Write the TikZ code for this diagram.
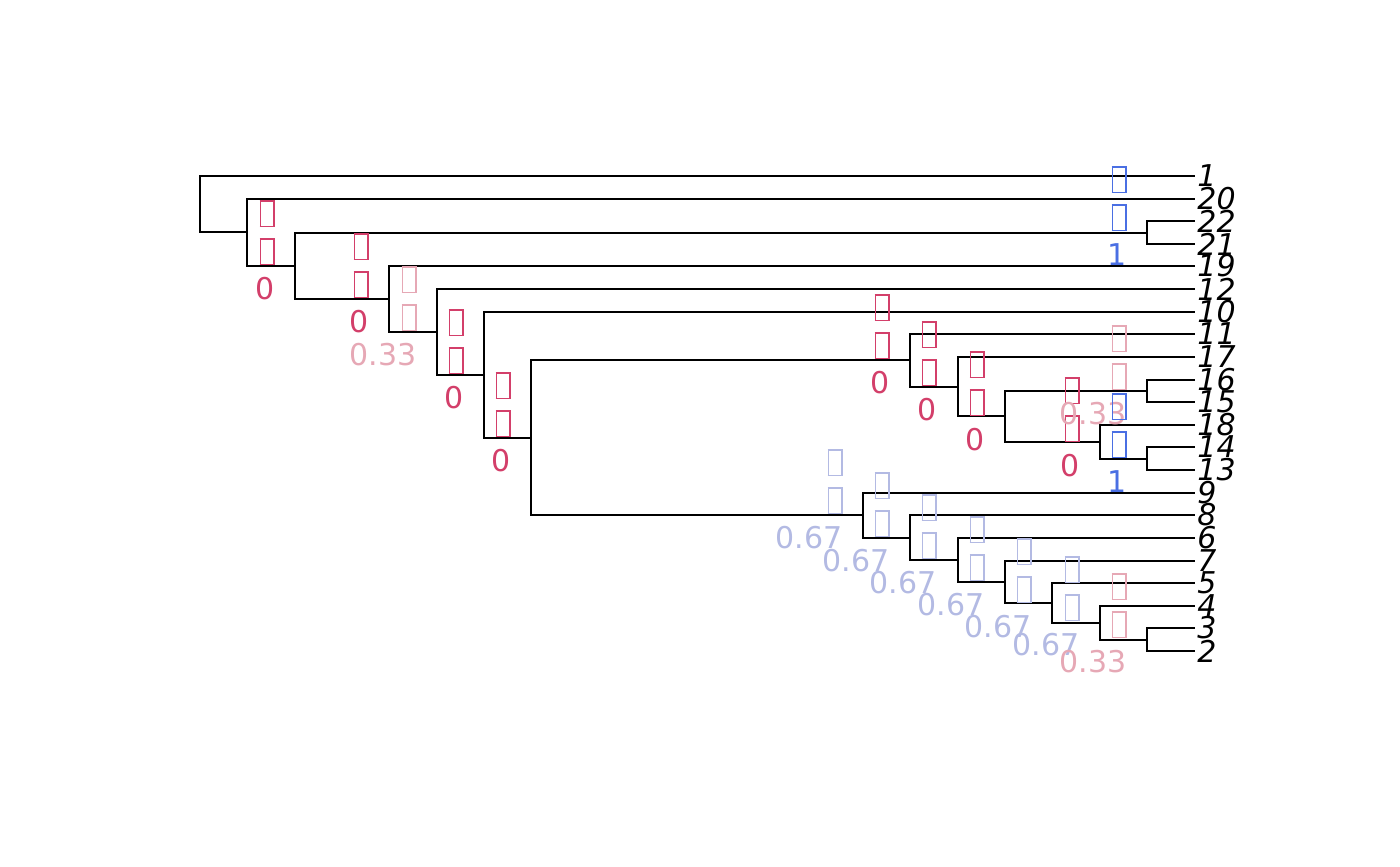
\documentclass[tikz,border=0pt]{standalone}
\usepackage{fontspec}
\setmainfont{DejaVu Sans}
\usetikzlibrary{positioning}
\definecolor{redlab}{HTML}{D33F6A}
\definecolor{pinklab}{HTML}{E6A8B5}
\definecolor{lavlab}{HTML}{B3BAE3}
\definecolor{bluelab}{HTML}{4A6FE3}
\newcommand{\tofu}{\raisebox{-1.5pt}{\fboxsep=0pt\fboxrule=0.6pt\fbox{\rule{0pt}{12.3pt}\hspace{6.3pt}}}}

\begin{document}
\begin{tikzpicture}[
  x=0.5pt, y=-0.5pt,
  br/.style={line width=0.9pt},
  tipl/.style={font=\fontsize{15pt}{18pt}\selectfont\itshape, inner sep=0pt},
  nlab/.style={font=\fontsize{15pt}{19pt}\selectfont, align=right, anchor=north east, inner sep=0pt},
  zero/.style={nlab, text=redlab},
  third/.style={nlab, text=pinklab},
  twothird/.style={nlab, text=lavlab},
  one/.style={nlab, text=bluelab}
]
  \useasboundingbox (0,0) rectangle (1400,866);

  % tips
  \coordinate (t1) at (1195,176);
  \coordinate (t20) at (1195,199);
  \coordinate (t22) at (1195,221);
  \coordinate (t21) at (1195,244);
  \coordinate (t19) at (1195,266);
  \coordinate (t12) at (1195,289);
  \coordinate (t10) at (1195,312);
  \coordinate (t11) at (1195,334);
  \coordinate (t17) at (1195,357);
  \coordinate (t16) at (1195,380);
  \coordinate (t15) at (1195,402);
  \coordinate (t18) at (1195,425);
  \coordinate (t14) at (1195,447);
  \coordinate (t13) at (1195,470);
  \coordinate (t9) at (1195,493);
  \coordinate (t8) at (1195,515);
  \coordinate (t6) at (1195,538);
  \coordinate (t7) at (1195,561);
  \coordinate (t5) at (1195,583);
  \coordinate (t4) at (1195,606);
  \coordinate (t3) at (1195,628);
  \coordinate (t2) at (1195,651);

  % internal nodes
  \coordinate (root) at (200,204);
  \coordinate (a) at (247,232);
  \coordinate (b) at (295,266);
  \coordinate (u) at (1147,233);
  \coordinate (c) at (389,299);
  \coordinate (d) at (437,332);
  \coordinate (e) at (484,375);
  \coordinate (f) at (531,438);
  \coordinate (g) at (910,360);
  \coordinate (i) at (958,387);
  \coordinate (j) at (1005,416);
  \coordinate (k) at (1147,391);
  \coordinate (l) at (1100,442);
  \coordinate (m) at (1147,459);
  \coordinate (h) at (863,515);
  \coordinate (n) at (910,538);
  \coordinate (o) at (958,560);
  \coordinate (p) at (1005,582);
  \coordinate (q) at (1052,603);
  \coordinate (r) at (1100,623);
  \coordinate (s) at (1147,640);

  \draw[br] (root) |- (t1) (root) |- (a);
  \draw[br] (a) |- (t20) (a) |- (b);
  \draw[br] (b) |- (u) (b) |- (c);
  \draw[br] (u) |- (t22) (u) |- (t21);
  \draw[br] (c) |- (t19) (c) |- (d);
  \draw[br] (d) |- (t12) (d) |- (e);
  \draw[br] (e) |- (t10) (e) |- (f);
  \draw[br] (f) |- (g) (f) |- (h);
  \draw[br] (g) |- (t11) (g) |- (i);
  \draw[br] (i) |- (t17) (i) |- (j);
  \draw[br] (j) |- (k) (j) |- (l);
  \draw[br] (k) |- (t16) (k) |- (t15);
  \draw[br] (l) |- (t18) (l) |- (m);
  \draw[br] (m) |- (t14) (m) |- (t13);
  \draw[br] (h) |- (t9) (h) |- (n);
  \draw[br] (n) |- (t8) (n) |- (o);
  \draw[br] (o) |- (t6) (o) |- (p);
  \draw[br] (p) |- (t7) (p) |- (q);
  \draw[br] (q) |- (t5) (q) |- (r);
  \draw[br] (r) |- (t4) (r) |- (s);
  \draw[br] (s) |- (t3) (s) |- (t2);

  % tip labels
  \node[tipl, right=1pt of t1] (l1) {1};
  \node[tipl, right=1pt of t20] (l20) {20};
  \node[tipl, right=1pt of t22] (l22) {22};
  \node[tipl, right=1pt of t21] (l21) {21};
  \node[tipl, right=1pt of t19] (l19) {19};
  \node[tipl, right=1pt of t12] (l12) {12};
  \node[tipl, right=1pt of t10] (l10) {10};
  \node[tipl, right=1pt of t11] (l11) {11};
  \node[tipl, right=1pt of t17] (l17) {17};
  \node[tipl, right=1pt of t16] (l16) {16};
  \node[tipl, right=1pt of t15] (l15) {15};
  \node[tipl, right=1pt of t18] (l18) {18};
  \node[tipl, right=1pt of t14] (l14) {14};
  \node[tipl, right=1pt of t13] (l13) {13};
  \node[tipl, right=1pt of t9] (l9) {9};
  \node[tipl, right=1pt of t8] (l8) {8};
  \node[tipl, right=1pt of t6] (l6) {6};
  \node[tipl, right=1pt of t7] (l7) {7};
  \node[tipl, right=1pt of t5] (l5) {5};
  \node[tipl, right=1pt of t4] (l4) {4};
  \node[tipl, right=1pt of t3] (l3) {3};
  \node[tipl, right=1pt of t2] (l2) {2};

  % node labels
  \node[zero] (la) at (275,200) {\tofu\\\tofu\\0};
  \node[zero] (lb) at (369,233) {\tofu\\\tofu\\0};
  \node[third] (lc) at (417,266) {\tofu\\\tofu\\0.33};
  \node[zero] (ld) at (464,309) {\tofu\\\tofu\\0};
  \node[zero] (le) at (511,372) {\tofu\\\tofu\\0};
  \node[zero] (lg) at (890,294) {\tofu\\\tofu\\0};
  \node[zero] (li) at (937,321) {\tofu\\\tofu\\0};
  \node[zero] (lj) at (985,351) {\tofu\\\tofu\\0};
  \node[zero] (ll) at (1080,377) {\tofu\\\tofu\\0};
  \node[third] (lk) at (1127,325) {\tofu\\\tofu\\0.33};
  \node[one] (lm) at (1127,393) {\tofu\\\tofu\\1};
  \node[one] (lu) at (1127,166) {\tofu\\\tofu\\1};
  \node[twothird] (lh) at (843,449) {\tofu\\\tofu\\0.67};
  \node[twothird] (ln) at (890,472) {\tofu\\\tofu\\0.67};
  \node[twothird] (lo) at (937,494) {\tofu\\\tofu\\0.67};
  \node[twothird] (lp) at (985,516) {\tofu\\\tofu\\0.67};
  \node[twothird] (lq) at (1032,538) {\tofu\\\tofu\\0.67};
  \node[twothird] (lr) at (1080,556) {\tofu\\\tofu\\0.67};
  \node[third] (ls) at (1127,573) {\tofu\\\tofu\\0.33};
\end{tikzpicture}
\end{document}
